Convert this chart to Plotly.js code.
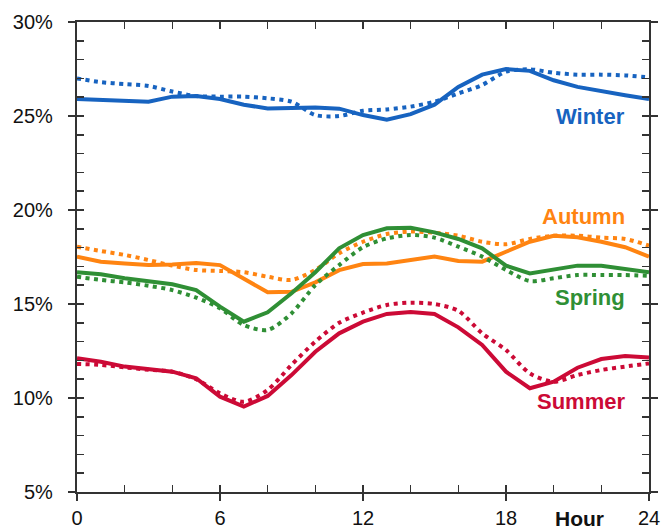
<!DOCTYPE html>
<html>
<head>
<meta charset="utf-8">
<script src="https://cdn.plot.ly/plotly-3.0.1.min.js"></script>
<style>html,body{margin:0;padding:0;background:#fff}#chart{width:662px;height:531px}</style>
</head>
<body>
<div id="chart"></div>
<script>
const hours = [0,1,2,3,4,5,6,7,8,9,10,11,12,13,14,15,16,17,18,19,20,21,22,23,24];

const winterSolid  = [25.9,25.85,25.8,25.76,26.03,26.06,25.9,25.6,25.4,25.45,25.45,25.39,25.05,24.8,25.1,25.6,26.55,27.2,27.5,27.4,26.9,26.55,26.3,26.1,25.9];
const winterDotted = [27.0,26.8,26.7,26.6,26.3,26.06,26.03,26.03,25.94,25.76,25.05,25.0,25.28,25.35,25.5,25.76,26.2,26.65,27.36,27.48,27.3,27.2,27.2,27.16,27.05];

const autumnSolid  = [17.52,17.25,17.16,17.07,17.1,17.18,17.07,16.37,15.62,15.65,16.15,16.8,17.13,17.16,17.34,17.52,17.29,17.25,17.78,18.31,18.63,18.55,18.31,18.02,17.52];
const autumnDotted = [18.05,17.82,17.61,17.34,17.04,16.81,16.76,16.69,16.45,16.28,16.81,17.7,18.31,18.72,18.85,18.79,18.63,18.31,18.18,18.46,18.63,18.63,18.53,18.46,18.1];

const springSolid  = [16.69,16.58,16.37,16.19,16.05,15.74,14.86,14.06,14.56,15.57,16.69,17.96,18.67,19.03,19.06,18.81,18.46,17.96,17.04,16.63,16.81,17.04,17.04,16.86,16.69];
const springDotted = [16.45,16.28,16.15,15.97,15.74,15.34,14.77,13.88,13.62,14.5,16.01,17.07,18.02,18.49,18.67,18.53,18.05,17.52,16.81,16.22,16.37,16.54,16.54,16.54,16.5];

const summerSolid  = [12.12,11.93,11.67,11.53,11.4,11.05,10.07,9.54,10.11,11.22,12.46,13.44,14.06,14.47,14.57,14.47,13.76,12.82,11.4,10.52,10.87,11.61,12.07,12.23,12.16];
const summerDotted = [11.81,11.76,11.63,11.5,11.4,11.0,10.25,9.8,10.43,11.76,13.0,14.0,14.54,14.95,15.07,15.0,14.64,13.44,12.55,11.31,10.87,11.22,11.49,11.67,11.84];

const seasons = ["Winter","Autumn","Spring","Summer"];
const colors  = ["#1763c0","#ff8411","#2f8f35","#cc0a36"];
const solidSeries  = [winterSolid, autumnSolid, springSolid, summerSolid];
const dottedSeries = [winterDotted, autumnDotted, springDotted, summerDotted];

const xTickVals = [0,6,12,18,24];
const xTickText = ["0","6","12","18","24"];
const yTickVals = [5,10,15,20,25,30];
const yTickText = ["5%","10%","15%","20%","25%","30%"];
const xTitle = "Hour";

const traces = [];
seasons.forEach((s,i)=>{
  traces.push({x:hours,y:dottedSeries[i],type:"scatter",mode:"lines",name:s+" (dotted)",
    line:{color:colors[i],width:4,dash:"4px,4.5px",shape:"spline",smoothing:0.8},hoverinfo:"skip"});
  traces.push({x:hours,y:solidSeries[i],type:"scatter",mode:"lines",name:s,
    line:{color:colors[i],width:4}});
});

const labelY = {Winter:25.0,Autumn:19.68,Spring:15.32,Summer:9.79};
const annotations = seasons.map((s,i)=>({
  x:23.08, y:labelY[s], xref:"x", yref:"y", xanchor:"right", text:"<b>"+s+"</b>",
  showarrow:false, font:{family:"Liberation Sans, Arial, sans-serif", size:22, color:colors[i]}
}));
annotations.push({x:22.2, y:0, xref:"x", yref:"paper", xanchor:"right", yshift:-40, text:"<b>"+xTitle+"</b>",
  showarrow:false, font:{family:"Liberation Sans, Arial, sans-serif", size:21, color:"#111"}});

const pad = "\u00A0\u00A0";
const axisFont = {family:"Liberation Sans, Arial, sans-serif", size:20, color:"#111"};
const layout = {
  width:662, height:531,
  margin:{l:77, r:13, t:22, b:39},
  paper_bgcolor:"#fff", plot_bgcolor:"#fff",
  showlegend:false,
  xaxis:{range:[0,24], showline:true, linecolor:"#333", linewidth:2, mirror:false,
    ticks:"outside", tickvals:xTickVals, ticktext:xTickText, ticklen:7, tickwidth:1.5, tickcolor:"#333",
    showgrid:false, zeroline:false, tickfont:axisFont, fixedrange:true},
  xaxis2:{range:[0,24], overlaying:"x", side:"bottom", anchor:"y", showline:true, linecolor:"#333", linewidth:2,
    mirror:"ticks", ticks:"inside", tick0:0, dtick:2, ticklen:7, tickwidth:1.5, tickcolor:"#333",
    showticklabels:false, showgrid:false, zeroline:false},
  yaxis:{range:[5,30], showline:true, linecolor:"#333", linewidth:2, mirror:"ticks",
    ticks:"outside", tickvals:yTickVals, ticktext:yTickText.map(t=>t+pad), ticklen:7, tickwidth:1.5, tickcolor:"#333",
    showgrid:false, zeroline:false, tickfont:axisFont, fixedrange:true},
  yaxis2:{range:[5,30], overlaying:"y", side:"left", anchor:"x", showline:true, linecolor:"#333", linewidth:2,
    mirror:"ticks", ticks:"inside", tick0:5, dtick:1, ticklen:7, tickwidth:1.5, tickcolor:"#333",
    showticklabels:false, showgrid:false, zeroline:false},
  annotations:annotations
};
// helper trace to activate the overlaying axes (no visible marks)
traces.push({x:[0,24], y:[5,30], xaxis:"x2", yaxis:"y2", mode:"markers", marker:{opacity:0}, hoverinfo:"skip"});

Plotly.newPlot("chart", traces, layout, {staticPlot:true, displayModeBar:false});
</script>
</body>
</html>
